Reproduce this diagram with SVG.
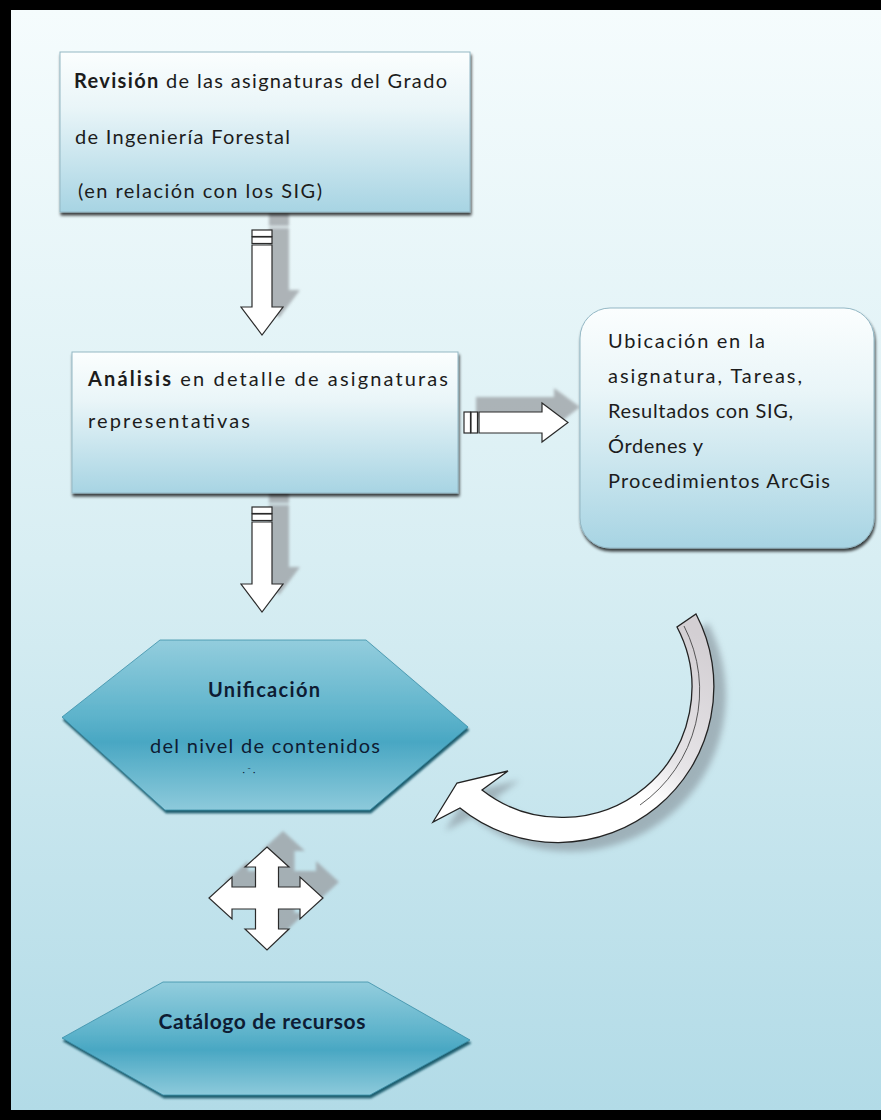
<svg xmlns="http://www.w3.org/2000/svg" width="881" height="1120" viewBox="0 0 881 1120">
<defs>
<linearGradient id="bg" x1="0" y1="0" x2="0" y2="1">
<stop offset="0" stop-color="#f5fcfd"/>
<stop offset="0.5" stop-color="#d8eef3"/>
<stop offset="1" stop-color="#b2dbe7"/>
</linearGradient>
<linearGradient id="boxg" x1="0" y1="0" x2="0" y2="1">
<stop offset="0" stop-color="#fbfefe"/>
<stop offset="0.35" stop-color="#e9f5f8"/>
<stop offset="1" stop-color="#a7d4e3"/>
</linearGradient>
<linearGradient id="hexg" x1="0" y1="0" x2="0" y2="1">
<stop offset="0" stop-color="#93cddd"/>
<stop offset="0.45" stop-color="#5db3cb"/>
<stop offset="0.6" stop-color="#49a7c3"/>
<stop offset="1" stop-color="#8dcadb"/>
</linearGradient>
<linearGradient id="curveg" gradientUnits="userSpaceOnUse" x1="720" y1="650" x2="600" y2="830">
<stop offset="0" stop-color="#d3cfd3"/>
<stop offset="0.55" stop-color="#e6e4e7"/>
<stop offset="0.75" stop-color="#ffffff"/>
<stop offset="1" stop-color="#ffffff"/>
</linearGradient>
<filter id="blur3" x="-20%" y="-20%" width="140%" height="140%"><feGaussianBlur stdDeviation="3"/></filter>
<filter id="blur2" x="-20%" y="-20%" width="140%" height="140%"><feGaussianBlur stdDeviation="1.5"/></filter>
<filter id="boxsh" x="-10%" y="-10%" width="120%" height="130%">
<feGaussianBlur in="SourceAlpha" stdDeviation="1.5"/>
<feOffset dx="1" dy="3" result="o"/>
<feComponentTransfer><feFuncA type="linear" slope="0.75"/></feComponentTransfer>
<feMerge><feMergeNode/><feMergeNode in="SourceGraphic"/></feMerge>
</filter>
<filter id="hexsh" x="-10%" y="-10%" width="120%" height="130%">
<feGaussianBlur in="SourceAlpha" stdDeviation="1"/>
<feOffset dx="1" dy="3" result="o"/>
<feFlood flood-color="#1f5f70"/>
<feComposite in2="o" operator="in"/>
<feMerge><feMergeNode/><feMergeNode in="SourceGraphic"/></feMerge>
</filter>
<path id="downArrow" d="M252 245 L272 245 L272 307 L283 307 L262 335 L241 307 L252 307 Z"/>
</defs>
<style>
.t{font-family:Lato,"Open Sans","Liberation Sans",sans-serif;font-size:20px;fill:#1c1c1c}
.b{font-weight:bold}
.h{font-family:Lato,"Open Sans","Liberation Sans",sans-serif;fill:#0e1c33}
.box{fill:url(#boxg);stroke:#93b7c4;stroke-width:1}
.hex{fill:url(#hexg);stroke:#3b8fa8;stroke-width:0.8}
.arr{fill:#ffffff;stroke:#2a2a2a;stroke-width:1.2;stroke-linejoin:miter}
.sh{fill:#9a9ea2;opacity:0.75}
</style>
<rect x="0" y="0" width="881" height="1120" fill="#000"/>
<rect x="11" y="10" width="870" height="1100" fill="url(#bg)"/>

<g id="connectors">
<g id="arrow-down-1">
<g class="sh" filter="url(#blur2)">
<rect x="269" y="213" width="20" height="13"/>
<use href="#downArrow" transform="translate(17,-17)"/>
</g>
<rect class="arr" x="252" y="230" width="20" height="6.5"/>
<rect class="arr" x="252" y="237" width="20" height="6.5"/>
<use href="#downArrow" class="arr"/>
</g>
<g id="arrow-down-2" transform="translate(0,277)">
<g class="sh" filter="url(#blur2)">
<rect x="269" y="213" width="20" height="13"/>
<use href="#downArrow" transform="translate(17,-17)"/>
</g>
<rect class="arr" x="252" y="230" width="20" height="6.5"/>
<rect class="arr" x="252" y="237" width="20" height="6.5"/>
<use href="#downArrow" class="arr"/>
</g>
<g id="arrow-right">
<path class="sh" filter="url(#blur2)" d="M476 397 L554 397 L554 388 L580 407 L554 427 L554 418 L476 418 Z"/>
<rect class="arr" x="464" y="412" width="6.5" height="21"/>
<rect class="arr" x="471" y="412" width="6.5" height="21"/>
<path class="arr" d="M479 412 L542 412 L542 403 L568 422.5 L542 442 L542 433 L479 433 Z"/>
</g>
<g id="arrow-curved">
<path fill="#8e9ca4" opacity="0.7" filter="url(#blur3)" transform="translate(12,9)" d="M696 614 A156 156 0 0 1 460 808 L433 822 L457 783 L508 771 L482 790 A130 130 0 0 0 677 627 Z"/>
<path fill="url(#curveg)" stroke="#222" stroke-width="1.3" stroke-linejoin="miter" d="M696 614 A156 156 0 0 1 460 808 L433 822 L457 783 L508 771 L482 790 A130 130 0 0 0 677 627 Z"/>
<path fill="none" stroke="#333" stroke-width="0.8" d="M684 626 A140 140 0 0 1 640 805"/>
</g>
<g id="arrow-4way">
<path class="sh" filter="url(#blur2)" transform="translate(16,-16)" d="M267 847 L289 867 L278.5 867 L278.5 887 L300 887 L300 877 L323 898 L300 919 L300 909 L278.5 909 L278.5 929 L289 929 L267 950 L245 929 L255.5 929 L255.5 909 L232 909 L232 919 L209 898 L232 877 L232 887 L255.5 887 L255.5 867 L245 867 Z"/>
<path class="arr" d="M267 847 L289 867 L278.5 867 L278.5 887 L300 887 L300 877 L323 898 L300 919 L300 909 L278.5 909 L278.5 929 L289 929 L267 950 L245 929 L255.5 929 L255.5 909 L232 909 L232 919 L209 898 L232 877 L232 887 L255.5 887 L255.5 867 L245 867 Z"/>
</g>
</g>

<g id="node-revision">
<rect class="box" x="60" y="52" width="410" height="160" filter="url(#boxsh)"/>
<text class="t" x="74" y="88" textLength="373" lengthAdjust="spacing"><tspan class="b">Revisión</tspan> de las asignaturas del Grado</text>
<text class="t" x="75" y="144" textLength="215" lengthAdjust="spacing">de Ingeniería Forestal</text>
<text class="t" x="78" y="198" textLength="244" lengthAdjust="spacing">(en relación con los SIG)</text>
</g>

<g id="node-analisis">
<rect class="box" x="72" y="352" width="386" height="141" filter="url(#boxsh)"/>
<text class="t" x="88" y="386" textLength="360" lengthAdjust="spacing"><tspan class="b">Análisis</tspan> en detalle de  asignaturas</text>
<text class="t" x="88" y="428" textLength="162" lengthAdjust="spacing">representativas</text>
</g>

<g id="node-ubicacion">
<rect class="box" x="580" y="308" width="294" height="240" rx="30" ry="30" filter="url(#boxsh)"/>
<text class="t" x="608" y="348" textLength="157" lengthAdjust="spacing">Ubicación en la</text>
<text class="t" x="608" y="383" textLength="194" lengthAdjust="spacing">asignatura, Tareas,</text>
<text class="t" x="608" y="418" textLength="185" lengthAdjust="spacing">Resultados con SIG,</text>
<text class="t" x="608" y="453" textLength="95" lengthAdjust="spacing">Órdenes y</text>
<text class="t" x="608" y="488" textLength="222" lengthAdjust="spacing">Procedimientos ArcGis</text>
</g>

<g id="node-unificacion">
<polygon class="hex" points="62,717 160,640 366,640 468,727 370,810 165,810" filter="url(#hexsh)"/>
<text class="h b" x="264" y="697" text-anchor="middle" font-size="20" textLength="112" lengthAdjust="spacing">Unificación</text>
<text class="h" x="265" y="753" text-anchor="middle" font-size="20" textLength="230" lengthAdjust="spacing">del nivel de contenidos</text>
<text class="h" x="249" y="775" text-anchor="middle" font-size="9">·  ˜  ·</text>
</g>

<g id="node-catalogo">
<polygon class="hex" points="62,1038 163,982 368,982 470,1040 370,1095 163,1095" filter="url(#hexsh)"/>
<text class="h b" x="262" y="1029" text-anchor="middle" font-size="21" textLength="207" lengthAdjust="spacing">Catálogo de recursos</text>
</g>
</svg>
